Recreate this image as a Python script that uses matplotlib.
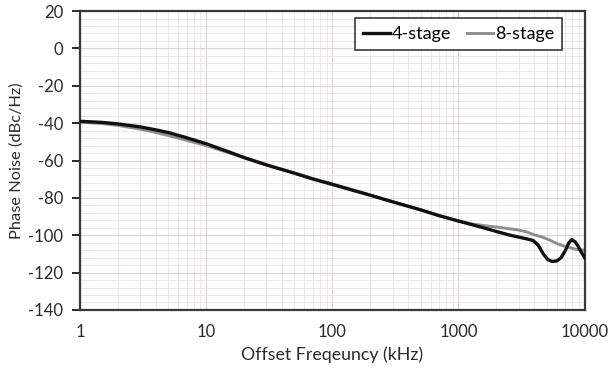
import numpy as np
import matplotlib.pyplot as plt
from matplotlib.ticker import FixedLocator, MultipleLocator, LogLocator, NullFormatter

plt.rcParams['font.family'] = ['Lato', 'DejaVu Sans']
plt.rcParams['axes.unicode_minus'] = False

# values (kHz, dBc/Hz)
freq_4 = [1, 1.5, 2, 3, 4, 5, 7, 10, 15, 20, 30, 50, 70, 100, 200, 300, 500, 700,
          1000, 1500, 2000, 2500, 3000, 3500, 3900, 4300, 4700, 5100, 5500, 6000,
          6500, 7000, 7500, 7900, 8400, 8900, 9400, 10000]
pn_4 = [-39.0, -39.6, -40.4, -42.0, -43.6, -45.0, -47.8, -51.0, -55.3, -58.4, -62.3,
        -66.8, -69.9, -72.8, -78.6, -82.1, -86.4, -89.5, -92.4, -95.6, -98.0, -99.8,
        -101.0, -102.0, -102.8, -105.5, -110.0, -113.0, -114.0, -113.8, -112.0, -108.5,
        -104.0, -102.4, -103.5, -106.0, -109.0, -112.0]

freq_8 = [1, 1.5, 2, 3, 4, 5, 7, 10, 15, 20, 30, 50, 70, 100, 200, 300, 500, 700,
          1000, 1300, 1700, 2000, 2500, 3000, 3500, 4000, 4600, 5300, 6000, 6700,
          7500, 8500, 10000]
pn_8 = [-39.5, -40.2, -41.2, -43.2, -45.0, -46.6, -49.2, -52.0, -55.8, -58.6, -62.5,
        -66.6, -69.6, -72.5, -78.4, -82.0, -86.3, -89.4, -92.4, -94.0, -95.1, -95.6,
        -96.5, -97.2, -98.3, -99.8, -101.0, -102.6, -104.4, -105.6, -106.5, -107.5, -108.0]

fig = plt.figure(figsize=(6.08, 3.69), dpi=100)
ax = fig.add_axes([0.1316, 0.160, 0.830, 0.810])

ax.plot(freq_4, pn_4, color='#111111', lw=2.4, label='4-stage', zorder=3)
ax.plot(freq_8, pn_8, color='#8e8e8e', lw=2.1, label='8-stage', zorder=2)

ax.set_xscale('log')
ax.set_xlim(1, 10000)
ax.set_ylim(-140, 20)

ax.xaxis.set_major_locator(FixedLocator([1, 10, 100, 1000, 10000]))
ax.set_xticklabels(['1', '10', '100', '1000', '10000'])
ax.xaxis.set_minor_locator(LogLocator(base=10, subs=np.arange(2, 10)))
ax.xaxis.set_minor_formatter(NullFormatter())
ax.yaxis.set_major_locator(MultipleLocator(20))
ax.yaxis.set_minor_locator(MultipleLocator(4))

ax.grid(which='major', color='#e0d4d4', lw=0.9)
ax.grid(which='minor', color='#eee6e6', lw=0.7)
ax.set_axisbelow(True)

ax.tick_params(axis='x', which='both', length=0, pad=10, labelsize=12, colors='#2a2a2a')
ax.tick_params(axis='y', which='major', length=6, width=1.4, direction='out', pad=6,
               labelsize=12, colors='#2a2a2a')
ax.tick_params(axis='y', which='minor', length=0)

for side in ['left', 'right', 'top', 'bottom']:
    ax.spines[side].set_color('#383838')
    ax.spines[side].set_linewidth(1.6)

ax.set_xlabel('Offset Freqeuncy (kHz)', fontsize=12.8, color='#2a2a2a', labelpad=5)
ax.set_ylabel('Phase Noise (dBc/Hz)', fontsize=11.8, color='#2a2a2a', labelpad=3)

leg = ax.legend(loc='upper right', ncol=2, fontsize=13, frameon=True, fancybox=False,
                handlelength=1.45, handletextpad=0.1, columnspacing=0.9,
                borderpad=0.45, borderaxespad=0, bbox_to_anchor=(0.956, 0.977))
leg.get_frame().set_edgecolor('#383838')
leg.get_frame().set_linewidth(1.2)
leg.get_frame().set_alpha(1)

fig.savefig('out.png', dpi=100)
